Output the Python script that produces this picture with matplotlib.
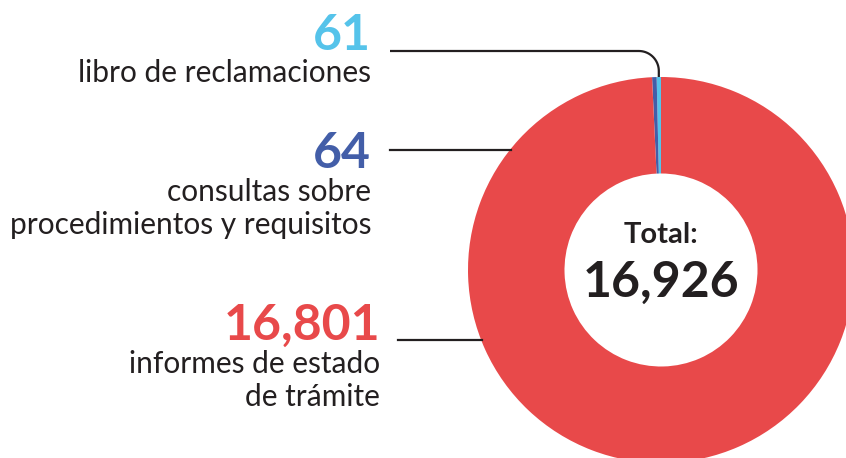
import numpy as np
import matplotlib.pyplot as plt

# Solicitudes por tipo
counts = [61, 64, 16801]
values_txt = ["61", "64", "16,801"]
descriptions = ["libro de reclamaciones",
                "consultas sobre\nprocedimientos y requisitos",
                "informes de estado\nde trámite"]
colors = ["#55C3EA", "#435EA8", "#E8494A"]
total = sum(counts)

W, H = 846, 458
ink = "#231F20"
font = ["Lato", "DejaVu Sans"]

fig = plt.figure(figsize=(W / 100, H / 100), dpi=100, facecolor="white")
ax = fig.add_axes([0, 0, 1, 1])

cx, cy, R = 661, H - 270, 193
ax.pie(counts, colors=colors, startangle=90, counterclock=True,
       radius=R, center=(cx, cy), wedgeprops=dict(width=R * 0.5, linewidth=0))
ax.set_xlim(0, W)
ax.set_ylim(0, H)
ax.set_aspect("equal")
ax.axis("off")

# centre label
ax.text(cx, H - 243, "Total:", ha="center", va="baseline", fontsize=21,
        fontweight="bold", color=ink, family=font)
ax.text(cx, H - 297, f"{total:,}", ha="center", va="baseline", fontsize=36,
        fontweight="bold", color=ink, family=font)

# leader for the first wedge: horizontal then a rounded bend down onto the ring
mid = np.deg2rad(90 + 0.5 * counts[0] / total * 360)
xe, ye = cx + R * np.cos(mid), cy + R * np.sin(mid)
y0, rc = H - 51, 20
t = np.linspace(np.pi / 2, 0, 20)
arc_x = xe - rc + rc * np.cos(t)
arc_y = y0 - rc + rc * np.sin(t)
lx = np.concatenate([[390], arc_x, [xe]])
ly = np.concatenate([[y0], arc_y, [ye]])
ax.plot(lx, ly, color=ink, lw=1.6, solid_capstyle="butt", zorder=3)

# straight leaders for the other two
for ypx, x_start in ((150, 390), (340, 398)):
    y = H - ypx
    x_edge = cx - np.sqrt(R ** 2 - (y - cy) ** 2)
    ax.plot([x_start, x_edge + 1], [y, y], color=ink, lw=1.6, zorder=3)

# value + description blocks: right edge, value baseline, last-line baseline
blocks = [
    (371, 50, 82),
    (371, 168, 234),
    (380, 340, 406),
]
for (xr, yv, yd), v, d, c in zip(blocks, values_txt, descriptions, colors):
    ax.text(xr, H - yv, v, ha="right", va="baseline", fontsize=36,
            fontweight="bold", color=c, family=font)
    ax.text(xr, H - yd, d, ha="right", va="baseline", fontsize=21.5,
            color=ink, family=font, linespacing=1.2)

fig.savefig("out.png", dpi=100, facecolor="white")
